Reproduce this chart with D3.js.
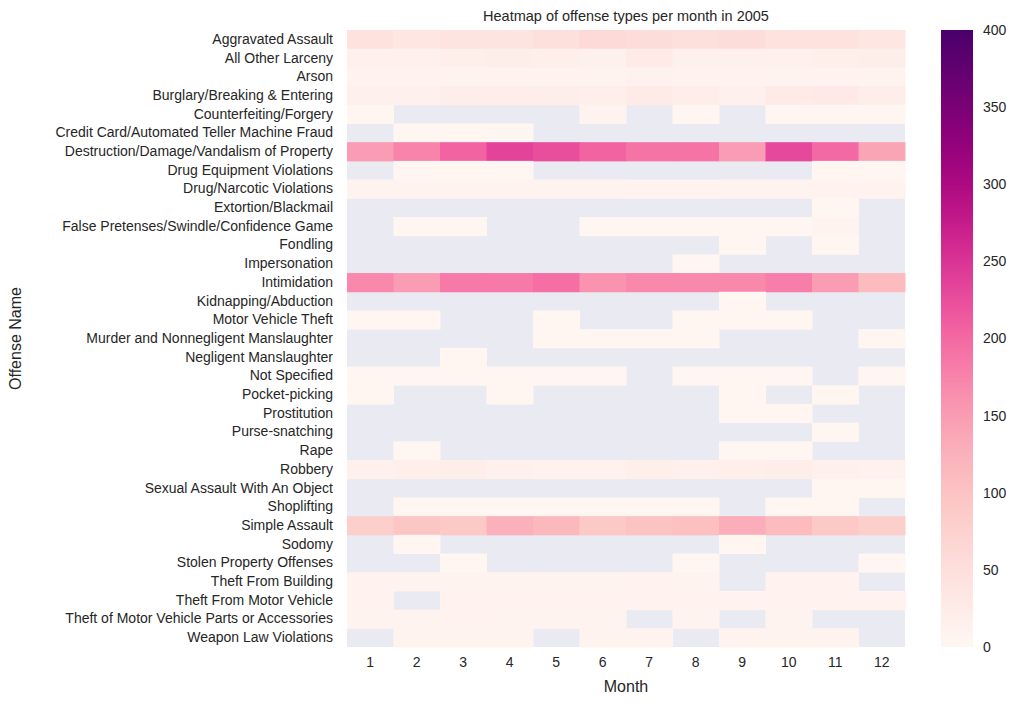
<!DOCTYPE html>
<html><head><meta charset="UTF-8">
<script src="https://d3js.org/d3.v7.min.js"></script>
<style>body{margin:0;background:#fff}text{font-family:"Liberation Sans",Arial,sans-serif;fill:#262626}</style>
</head><body><svg id="c" width="1018" height="704"></svg>
<script>
const offenses = ["Aggravated Assault","All Other Larceny","Arson","Burglary/Breaking & Entering","Counterfeiting/Forgery","Credit Card/Automated Teller Machine Fraud","Destruction/Damage/Vandalism of Property","Drug Equipment Violations","Drug/Narcotic Violations","Extortion/Blackmail","False Pretenses/Swindle/Confidence Game","Fondling","Impersonation","Intimidation","Kidnapping/Abduction","Motor Vehicle Theft","Murder and Nonnegligent Manslaughter","Negligent Manslaughter","Not Specified","Pocket-picking","Prostitution","Purse-snatching","Rape","Robbery","Sexual Assault With An Object","Shoplifting","Simple Assault","Sodomy","Stolen Property Offenses","Theft From Building","Theft From Motor Vehicle","Theft of Motor Vehicle Parts or Accessories","Weapon Law Violations"];
const months = [1,2,3,4,5,6,7,8,9,10,11,12];
const n = null;
const counts = [
[45,35,40,40,50,60,55,50,55,45,45,35],
[15,15,18,20,18,15,25,15,15,15,18,20],
[10,10,8,10,10,8,12,10,10,8,10,8],
[15,15,20,22,20,18,25,22,15,25,30,20],
[5,n,n,n,n,8,n,5,n,5,5,5],
[n,3,3,3,n,n,n,n,n,n,n,n],
[150,175,205,235,225,205,190,190,150,230,200,140],
[n,2,2,2,n,n,n,n,n,n,3,3],
[8,8,8,8,8,8,10,10,8,8,10,10],
[n,n,n,n,n,n,n,n,n,n,5,n],
[n,5,5,n,n,5,5,5,5,5,8,n],
[n,n,n,n,n,n,n,n,5,n,5,n],
[n,n,n,n,n,n,n,5,n,n,n,n],
[170,150,185,185,195,160,170,170,170,180,150,110],
[n,n,n,n,n,n,n,n,3,n,n,n],
[5,5,n,n,3,n,n,3,3,3,n,n],
[n,n,n,n,2,2,2,2,n,n,n,2],
[n,n,2,n,n,n,n,n,n,n,n,n],
[5,5,5,5,5,5,n,5,5,5,n,5],
[5,n,n,5,n,n,n,n,3,n,3,n],
[n,n,n,n,n,n,n,n,3,3,n,n],
[n,n,n,n,n,n,n,n,n,n,3,n],
[n,3,n,n,n,n,n,n,3,3,n,n],
[15,18,20,15,12,12,18,15,18,20,15,12],
[n,n,n,n,n,n,n,n,n,n,3,3],
[n,5,5,5,5,5,5,5,n,5,5,n],
[80,95,90,125,115,90,100,105,130,110,90,80],
[n,2,n,n,n,n,n,n,2,n,n,n],
[n,n,3,n,n,n,n,3,n,n,n,5],
[10,8,8,8,8,8,10,8,n,10,10,n],
[10,n,10,10,10,10,10,10,10,10,10,10],
[8,8,10,8,8,8,n,8,n,8,n,n],
[n,8,8,8,n,8,8,n,8,8,8,n]
];
const cbTicks = [0,50,100,150,200,250,300,350,400];

const svg = d3.select("#c");
const L = 347, R = 905, T = 30, B = 647;
const x = d3.scaleBand().domain(months).range([L, R]);
const y = d3.scaleBand().domain(offenses).range([T, B]);
const color = d3.scaleSequential(d3.interpolateRdPu).domain([0, 400]);

svg.append("rect").attr("x", L).attr("y", T).attr("width", R - L).attr("height", B - T).attr("fill", "#eaeaf2");
const cells = [];
counts.forEach((row, i) => row.forEach((v, j) => { if (v !== null) cells.push({o: offenses[i], m: months[j], v}); }));
svg.selectAll("rect.cell").data(cells).join("rect").attr("class", "cell")
  .attr("x", d => x(d.m)).attr("y", d => y(d.o))
  .attr("width", x.bandwidth() + 0.5).attr("height", y.bandwidth() + 0.5)
  .attr("fill", d => color(d.v));

const ax = svg.append("g").attr("transform", `translate(0,${B})`).call(d3.axisBottom(x).tickSize(0).tickPadding(10));
const ay = svg.append("g").attr("transform", `translate(${L},0)`).call(d3.axisLeft(y).tickSize(0).tickPadding(14));
[ax, ay].forEach(a => { a.select(".domain").remove(); a.selectAll("text").style("font-size", "14px").style("fill", "#262626"); });

svg.append("text").attr("x", (L + R) / 2).attr("y", 21).attr("text-anchor", "middle").style("font-size", "14.5px").text("Heatmap of offense types per month in 2005");
svg.append("text").attr("x", (L + R) / 2).attr("y", 692).attr("text-anchor", "middle").style("font-size", "16px").text("Month");
svg.append("text").attr("transform", `translate(21,${(T + B) / 2}) rotate(-90)`).attr("text-anchor", "middle").style("font-size", "16px").text("Offense Name");

// colorbar
const cx = 941, cw = 32;
const cy = d3.scaleLinear().domain([0, 400]).range([B, T]);
const defs = svg.append("defs");
const grad = defs.append("linearGradient").attr("id", "g").attr("x1", 0).attr("y1", 1).attr("x2", 0).attr("y2", 0);
d3.range(0, 1.0001, 0.05).forEach(t => grad.append("stop").attr("offset", t).attr("stop-color", color(t * 400)));
svg.append("rect").attr("x", cx).attr("y", T).attr("width", cw).attr("height", B - T).attr("fill", "url(#g)");
const ac = svg.append("g").attr("transform", `translate(${cx + cw},0)`).call(d3.axisRight(cy).tickValues(cbTicks).tickSize(0).tickPadding(10));
ac.select(".domain").remove();
ac.selectAll("text").style("font-size", "14px").style("fill", "#262626");
</script></body></html>
